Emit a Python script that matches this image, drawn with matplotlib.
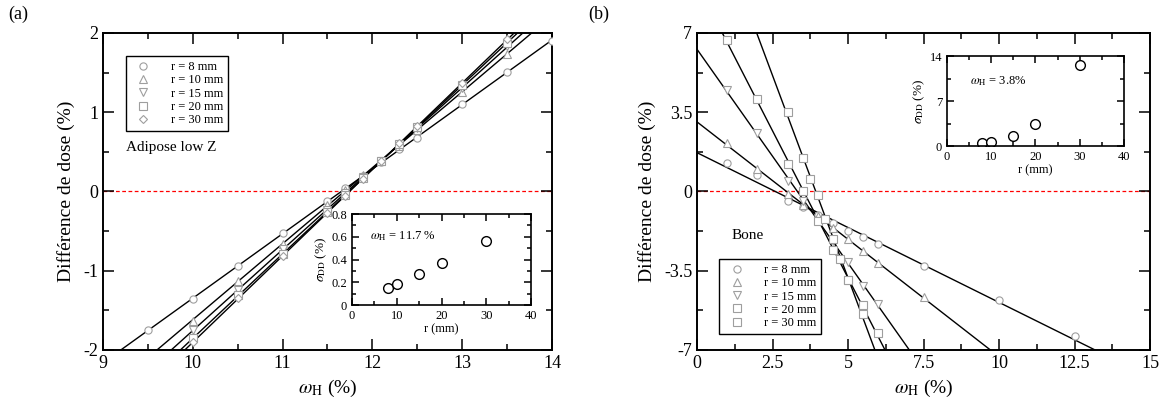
import numpy as np
import matplotlib
matplotlib.use('Agg')
import matplotlib.pyplot as plt
from matplotlib.ticker import MultipleLocator, FuncFormatter

plt.rcParams['font.family'] = ['Liberation Serif', 'DejaVu Serif']
plt.rcParams['mathtext.fontset'] = 'stix'
plt.rcParams['axes.unicode_minus'] = False

# ---- panel (a) : Adipose low Z ----
radii = ['r = 8 mm', 'r = 10 mm', 'r = 15 mm', 'r = 20 mm', 'r = 30 mm']
xa8 = [9.5, 10, 10.5, 11, 11.5, 11.7, 11.9, 12.1, 12.3, 12.5, 13, 13.5, 14]
ya8 = [-1.75, -1.36, -0.94, -0.53, -0.12, 0.04, 0.20, 0.37, 0.53, 0.68, 1.10, 1.51, 1.90]
xa = [10, 10.5, 11, 11.5, 11.7, 11.9, 12.1, 12.3, 12.5, 13, 13.5]
ya10 = [-1.63, -1.13, -0.66, -0.17, 0.02, 0.21, 0.39, 0.58, 0.78, 1.25, 1.74]
ya15 = [-1.75, -1.24, -0.73, -0.23, -0.02, 0.18, 0.39, 0.59, 0.80, 1.31, 1.83]
ya20 = [-1.85, -1.31, -0.79, -0.26, -0.05, 0.17, 0.38, 0.60, 0.81, 1.35, 1.88]
ya30 = [-1.90, -1.35, -0.81, -0.27, -0.06, 0.16, 0.38, 0.61, 0.83, 1.37, 1.92]

# inset (a)
r_mm = [8, 10, 15, 20, 30]
sig_a = [0.15, 0.185, 0.27, 0.37, 0.565]

# ---- panel (b) : Bone ----
xb8 = [1, 2, 3, 3.5, 4, 4.5, 5, 5.5, 6, 7.5, 10, 12.5]
yb8 = [1.28, 0.75, -0.40, -0.70, -1.05, -1.40, -1.75, -2.0, -2.3, -3.3, -4.8, -6.4]
xb10 = [1, 2, 3, 3.5, 4, 4.5, 5, 5.5, 6, 7.5]
yb10 = [2.13, 1.0, -0.1, -0.6, -1.1, -1.6, -2.1, -2.65, -3.15, -4.64]
xb = [1, 2, 3, 3.5, 4, 4.5, 5, 5.5, 6]
yb15 = [4.47, 2.57, 0.45, -0.4, -1.3, -2.2, -3.1, -4.17, -4.96]
yb20 = [6.7, 4.1, 1.2, 0.0, -1.3, -2.6, -3.9, -5.0, -6.25]
xb30 = [3, 3.5, 3.75, 4, 4.25, 4.5, 4.75, 5, 5.5]
yb30 = [3.5, 1.5, 0.55, -0.15, -1.2, -2.1, -3.0, -3.9, -5.4]

# inset (b)
sig_b = [0.45, 0.6, 1.56, 3.4, 12.6]

fmt = FuncFormatter(lambda v, p: '%g' % v)
mk_gray = '0.62'


def style_axes(ax, lw=1.4, maj=8, mino=4, size=13):
    for s in ax.spines.values():
        s.set_linewidth(lw)
    ax.tick_params(which='both', direction='in', top=True, right=True,
                   labelsize=size, width=1.1)
    ax.tick_params(which='major', length=maj)
    ax.tick_params(which='minor', length=mino)
    ax.xaxis.set_major_formatter(fmt)
    ax.yaxis.set_major_formatter(fmt)


def draw_series(ax, series, markers, xlim):
    xx = np.linspace(xlim[0], xlim[1], 200)
    for (x, y, lab), m in zip(series, markers):
        c = np.polyfit(x, y, 1)
        ax.plot(xx, np.polyval(c, xx), color='black', lw=1.0, zorder=2)
        ax.plot(x, y, linestyle='none', marker=m, ms=4.5 if m == 'D' else 5.2,
                mfc='white', mec=mk_gray, mew=0.8, label=lab, zorder=3)


fig = plt.figure(figsize=(11.64, 3.97), dpi=100)

# ---------- (a) ----------
axa = fig.add_axes([0.0885, 0.1184, 0.3857, 0.7985])
sa = [(xa8, ya8, radii[0]), (xa, ya10, radii[1]), (xa, ya15, radii[2]),
      (xa, ya20, radii[3]), (xa, ya30, radii[4])]
draw_series(axa, sa, ['o', '^', 'v', 's', 'D'], (9, 14))
axa.axhline(0, color='#ff0000', lw=0.9, ls=(0, (3, 2)), zorder=1)
axa.set_xlim(9, 14)
axa.set_ylim(-2, 2)
axa.xaxis.set_major_locator(MultipleLocator(1))
axa.xaxis.set_minor_locator(MultipleLocator(0.5))
axa.yaxis.set_major_locator(MultipleLocator(1))
axa.yaxis.set_minor_locator(MultipleLocator(0.5))
style_axes(axa)
axa.set_xlabel(r'$\omega_{\rm H}$ (%)', fontsize=14)
axa.set_ylabel('Différence de dose (%)', fontsize=14, labelpad=6)
leg = axa.legend(loc='upper left', bbox_to_anchor=(0.051, 0.927),
                 borderaxespad=0, fontsize=9, labelspacing=0.1,
                 handletextpad=1.2, fancybox=False, framealpha=1,
                 edgecolor='black', borderpad=0.4)
leg.get_frame().set_linewidth(1.0)
axa.text(0.051, 0.64, 'Adipose low Z', transform=axa.transAxes,
         fontsize=11, va='center', ha='left')

ina = fig.add_axes([0.3024, 0.2317, 0.1538, 0.2292])
ina.plot(r_mm, sig_a, 'o', ms=7, mfc='white', mec='black', mew=1.0)
ina.set_xlim(0, 40)
ina.set_ylim(0, 0.8)
ina.xaxis.set_major_locator(MultipleLocator(10))
ina.xaxis.set_minor_locator(MultipleLocator(5))
ina.yaxis.set_major_locator(MultipleLocator(0.2))
ina.yaxis.set_minor_locator(MultipleLocator(0.1))
style_axes(ina, lw=1.2, maj=5, mino=3, size=9)
ina.set_xlabel('r (mm)', fontsize=9, labelpad=1)
ina.set_ylabel(r'$\sigma_{\rm DD}$ (%)', fontsize=9.5, labelpad=2)
ina.text(0.1, 0.76, r'$\omega_{\rm H}$ = 11.7 %', transform=ina.transAxes,
         fontsize=9, va='center')

# ---------- (b) ----------
axb = fig.add_axes([0.5988, 0.1184, 0.3892, 0.7985])
sb = [(xb8, yb8, radii[0]), (xb10, yb10, radii[1]), (xb, yb15, radii[2]),
      (xb, yb20, radii[3]), (xb30, yb30, radii[4])]
draw_series(axb, sb, ['o', '^', 'v', 's', 's'], (0, 15))
axb.axhline(0, color='#ff0000', lw=0.9, ls=(0, (3, 2)), zorder=1)
axb.set_xlim(0, 15)
axb.set_ylim(-7, 7)
axb.xaxis.set_major_locator(MultipleLocator(2.5))
axb.xaxis.set_minor_locator(MultipleLocator(1.25))
axb.yaxis.set_major_locator(MultipleLocator(3.5))
axb.yaxis.set_minor_locator(MultipleLocator(1.75))
style_axes(axb)
axb.set_xlabel(r'$\omega_{\rm H}$ (%)', fontsize=14)
axb.set_ylabel('Différence de dose (%)', fontsize=14, labelpad=6)
leg = axb.legend(loc='upper left', bbox_to_anchor=(0.049, 0.287),
                 borderaxespad=0, fontsize=9, labelspacing=0.1,
                 handletextpad=1.2, fancybox=False, framealpha=1,
                 edgecolor='black', borderpad=0.4)
leg.get_frame().set_linewidth(1.0)
axb.text(0.077, 0.36, 'Bone', transform=axb.transAxes,
         fontsize=11, va='center', ha='left')

inb = fig.add_axes([0.8136, 0.6322, 0.152, 0.2267])
inb.plot(r_mm, sig_b, 'o', ms=7, mfc='white', mec='black', mew=1.0)
inb.set_xlim(0, 40)
inb.set_ylim(0, 14)
inb.xaxis.set_major_locator(MultipleLocator(10))
inb.xaxis.set_minor_locator(MultipleLocator(5))
inb.yaxis.set_major_locator(MultipleLocator(7))
inb.yaxis.set_minor_locator(MultipleLocator(3.5))
style_axes(inb, lw=1.2, maj=5, mino=3, size=9)
inb.set_xlabel('r (mm)', fontsize=9, labelpad=1)
inb.set_ylabel(r'$\sigma_{\rm DD}$ (%)', fontsize=9.5, labelpad=2)
inb.text(0.13, 0.72, r'$\omega_{\rm H}$ = 3.8%', transform=inb.transAxes,
         fontsize=9, va='center')

fig.text(0.007, 0.985, '(a)', fontsize=13, va='top', ha='left')
fig.text(0.505, 0.985, '(b)', fontsize=13, va='top', ha='left')

fig.savefig('out.png', dpi=100)
